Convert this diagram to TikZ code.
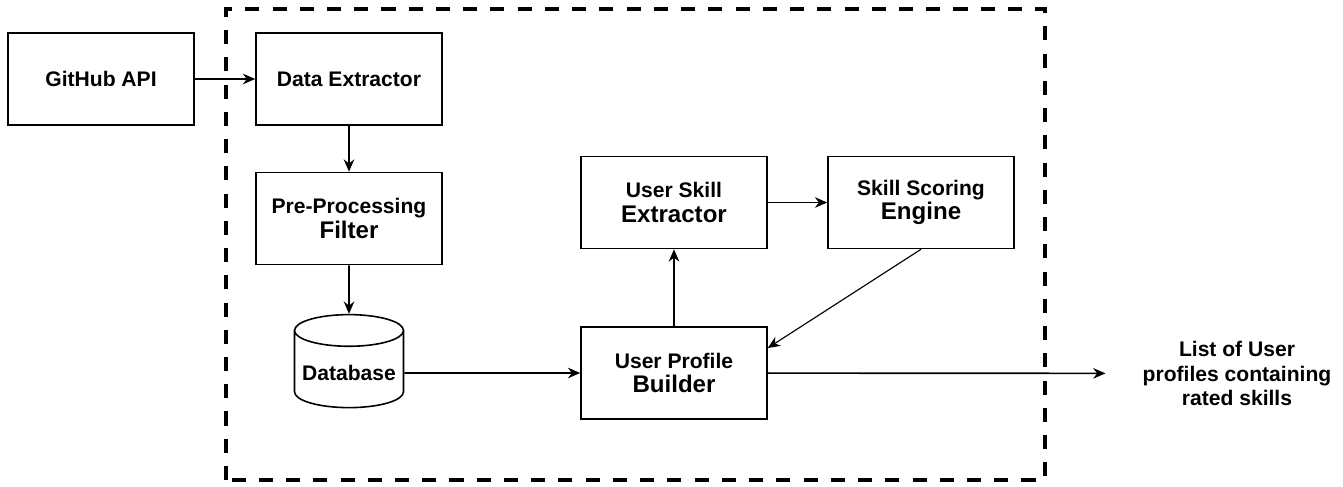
\documentclass[tikz,border=0pt]{standalone}
\usepackage{fontspec}
\setmainfont{Liberation Sans}
\usetikzlibrary{shapes.geometric,arrows.meta}

\tikzset{
  block/.style={draw, line width=0.9pt, minimum width=3.72cm, minimum height=1.84cm,
    align=center, font=\bfseries\fontsize{12}{14}\selectfont},
  store/.style={cylinder, shape border rotate=90, aspect=0.3, draw, line width=0.9pt,
    minimum width=2.18cm, minimum height=1.86cm, font=\bfseries\fontsize{12}{14}\selectfont},
  flow/.style={-{Stealth[length=7pt,width=6pt]}, line width=0.95pt},
  frame/.style={line width=2.3pt, dash pattern=on 8pt off 7.5pt}
}
\newcommand\bigline[1]{{\fontsize{13.7}{14}\selectfont #1}}

\begin{document}
\begin{tikzpicture}
		\useasboundingbox (0,0) rectangle (26.86,9.72);
		% boundary of the rating system
		\draw[frame] (4.52,0.12) rectangle (20.9,9.54);

		\node[block] (github) at (2.02,8.14) {GitHub API};
		\node[block] (extract) at (6.98,8.14) {Data Extractor};
		\node[block] (filter) at (6.98,5.35) {Pre-Processing\\\bigline{Filter}};
		\node[store] (db) at (6.98,2.26) {Database};
		\node[block] (profile) at (13.48,2.26) {User Profile\\\bigline{Builder}};
		\node[block] (skill) at (13.48,5.67) {User Skill\\\bigline{Extractor}};
		\node[block] (score) at (18.42,5.67) {Skill Scoring\\\bigline{Engine}};
		\node[align=center, font=\bfseries\fontsize{12}{14}\selectfont] (result) at (24.74,2.25) {List of User\\profiles containing\\rated skills};

		\draw[flow] (github) -- (extract);
		\draw[flow] (extract) -- (filter);
		\draw[flow] (filter) -- (db);
		\draw[flow] (db) -- (profile);
		\draw[flow] (profile) -- (skill);
		\draw[flow] (skill) -- (score);
		\draw[flow, line width=0.65pt] (score.south) -- ([yshift=0.5cm]profile.east);
		\draw[flow, shorten >=0.62cm] (profile) -- (result);
\end{tikzpicture}
\end{document}
